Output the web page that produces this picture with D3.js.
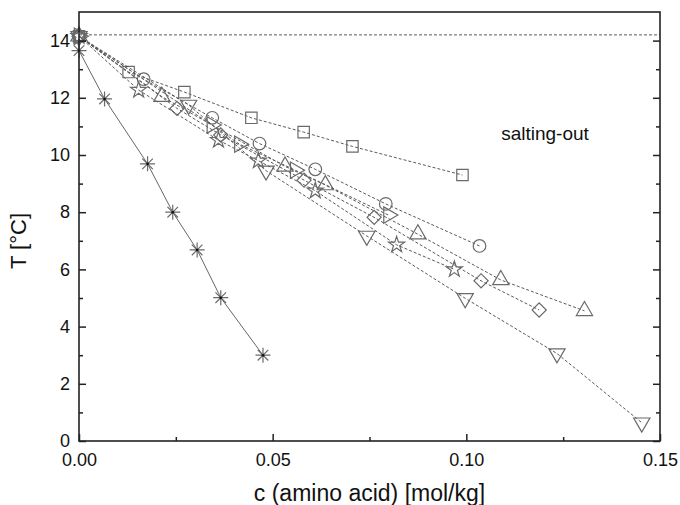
<!DOCTYPE html>
<html>
<head>
<meta charset="utf-8">
<script src="https://cdn.jsdelivr.net/npm/d3@7"></script>
<style>
  body { margin: 0; background: #fff; }
  svg text { font-family: "Liberation Sans", Arial, sans-serif; fill: #111; }
</style>
</head>
<body>
<div id="chart"></div>
<script>
// data: [c (mol/kg), T (°C)]
var squares   = [[0, 14.15], [0.0128, 12.9], [0.0272, 12.2], [0.0445, 11.3], [0.058, 10.8], [0.0706, 10.3], [0.099, 9.3]];
var circles   = [[0, 14.15], [0.0167, 12.65], [0.0344, 11.3], [0.0466, 10.4], [0.061, 9.5], [0.0792, 8.29], [0.1034, 6.82]];
var upTri     = [[0, 14.15], [0.0214, 12.04], [0.0532, 9.6], [0.0636, 8.95], [0.0875, 7.23], [0.1089, 5.63], [0.1305, 4.55]];
var downTri   = [[0, 14.15], [0.0283, 11.75], [0.0483, 9.45], [0.0743, 7.17], [0.0997, 4.99], [0.1234, 3.06], [0.1453, 0.64]];
var rightTri  = [[0, 14.15], [0.0343, 11.05], [0.0414, 10.38], [0.0558, 9.47], [0.0799, 7.9]];
var diamonds  = [[0, 14.15], [0.0253, 11.63], [0.0366, 10.7], [0.0581, 9.12], [0.0762, 7.82], [0.1038, 5.6], [0.1188, 4.58]];
var stars     = [[0, 14.15], [0.0154, 12.27], [0.036, 10.52], [0.0463, 9.8], [0.061, 8.75], [0.082, 6.86], [0.0969, 6.0]];
var asterisks = [[0, 13.65], [0.0066, 11.96], [0.0177, 9.69], [0.0242, 8.0], [0.0305, 6.68], [0.0366, 5.01], [0.0475, 3.0]];

var refLine = 14.2;
var xTicks = [0, 0.05, 0.10, 0.15];
var xMinor = [0.025, 0.075, 0.125];
var yTicks = [0, 2, 4, 6, 8, 10, 12, 14];
var yMinor = [1, 3, 5, 7, 9, 11, 13];

var width = 680, height = 505;
var margin = { top: 12, right: 20, bottom: 64, left: 79 };
var w = width - margin.left - margin.right;
var h = height - margin.top - margin.bottom;

var svg = d3.select("#chart").append("svg")
  .attr("width", width)
  .attr("height", height);

var g = svg.append("g")
  .attr("transform", "translate(" + margin.left + "," + margin.top + ")");

var x = d3.scaleLinear().domain([0, 0.15]).range([0, w]);
var y = d3.scaleLinear().domain([0, 15]).range([h, 0]);

var grey = "#5a5a5a";
var markGrey = "#6a6a6a";

// dashed reference line
g.append("line")
  .attr("x1", 0).attr("x2", w)
  .attr("y1", y(refLine)).attr("y2", y(refLine))
  .attr("stroke", grey).attr("stroke-width", 1)
  .attr("stroke-dasharray", "3,2");

var line = d3.line()
  .x(function (d) { return x(d[0]); })
  .y(function (d) { return y(d[1]); });

// marker shapes
var shapes = {
  square:  { path: d3.symbol(d3.symbolSquare, 130)(), rot: 0 },
  circle:  { path: d3.symbol(d3.symbolCircle, 125)(), rot: 0 },
  up:      { path: d3.symbol(d3.symbolTriangle, 115)(), rot: 0 },
  down:    { path: d3.symbol(d3.symbolTriangle, 115)(), rot: 180 },
  right:   { path: d3.symbol(d3.symbolTriangle, 115)(), rot: 90 },
  diamond: { path: d3.symbol(d3.symbolSquare, 100)(), rot: 45 },
  star:    { path: d3.symbol(d3.symbolStar, 80)(), rot: 0 }
};

var dashed = [
  { data: squares, shape: "square" },
  { data: circles, shape: "circle" },
  { data: upTri, shape: "up" },
  { data: downTri, shape: "down" },
  { data: rightTri, shape: "right" },
  { data: diamonds, shape: "diamond" },
  { data: stars, shape: "star" }
];

dashed.forEach(function (s) {
  g.append("path")
    .datum(s.data)
    .attr("d", line)
    .attr("fill", "none")
    .attr("stroke", grey)
    .attr("stroke-width", 1)
    .attr("stroke-dasharray", "3,2");

  g.selectAll(".m-" + s.shape)
    .data(s.data)
    .enter().append("path")
    .attr("class", "m-" + s.shape)
    .attr("d", shapes[s.shape].path)
    .attr("transform", function (d) {
      return "translate(" + x(d[0]) + "," + y(d[1]) + ") rotate(" + shapes[s.shape].rot + ")";
    })
    .attr("fill", "none")
    .attr("stroke", markGrey)
    .attr("stroke-width", 1.2);
});

// solid asterisk series
g.append("path")
  .datum(asterisks)
  .attr("d", line)
  .attr("fill", "none")
  .attr("stroke", "#666")
  .attr("stroke-width", 1);

var r = 7.5;
var astPath = "";
for (var k = 0; k < 4; k++) {
  var a = k * Math.PI / 4;
  astPath += "M" + (-r * Math.cos(a)) + "," + (-r * Math.sin(a)) + "L" + (r * Math.cos(a)) + "," + (r * Math.sin(a));
}
var ast = g.selectAll(".ast")
  .data(asterisks)
  .enter().append("g")
  .attr("class", "ast")
  .attr("transform", function (d) { return "translate(" + x(d[0]) + "," + y(d[1]) + ")"; });
ast.append("path")
  .attr("d", astPath)
  .attr("stroke", "#6a6a6a")
  .attr("stroke-width", 1.2);
ast.append("circle")
  .attr("r", 1.3)
  .attr("fill", "#111");

// axes with inward ticks
var axisColor = "#222";

function styleAxis(sel) {
  sel.select(".domain").remove();
  sel.selectAll("line").attr("stroke", axisColor).attr("stroke-width", 1.5);
  sel.selectAll("text").attr("font-size", 18).attr("fill", "#111");
}

g.append("g")
  .call(d3.axisLeft(y).tickValues(yTicks).tickSize(-7).tickPadding(9).tickFormat(d3.format("d")))
  .call(styleAxis);
g.append("g")
  .call(d3.axisLeft(y).tickValues(yMinor).tickSize(-4).tickFormat(""))
  .call(styleAxis);
g.append("g")
  .attr("transform", "translate(" + w + ",0)")
  .call(d3.axisRight(y).tickValues(yTicks).tickSize(-7).tickFormat(""))
  .call(styleAxis);
g.append("g")
  .attr("transform", "translate(" + w + ",0)")
  .call(d3.axisRight(y).tickValues(yMinor).tickSize(-4).tickFormat(""))
  .call(styleAxis);
g.append("g")
  .attr("transform", "translate(0," + h + ")")
  .call(d3.axisBottom(x).tickValues(xTicks).tickSize(-7).tickPadding(12).tickFormat(d3.format(".2f")))
  .call(styleAxis);
g.append("g")
  .attr("transform", "translate(0," + h + ")")
  .call(d3.axisBottom(x).tickValues(xMinor).tickSize(-4).tickFormat(""))
  .call(styleAxis);

// frame
g.append("rect")
  .attr("width", w).attr("height", h)
  .attr("fill", "none")
  .attr("stroke", axisColor)
  .attr("stroke-width", 1.6);

// titles
svg.append("text")
  .attr("x", margin.left + w / 2)
  .attr("y", 501)
  .attr("text-anchor", "middle")
  .attr("font-size", 23)
  .text("c (amino acid) [mol/kg]");

svg.append("text")
  .attr("transform", "translate(26,241) rotate(-90)")
  .attr("text-anchor", "middle")
  .attr("font-size", 22)
  .text("T [°C]");

svg.append("text")
  .attr("x", 545)
  .attr("y", 140)
  .attr("text-anchor", "middle")
  .attr("font-size", 19)
  .text("salting-out");
</script>
</body>
</html>
